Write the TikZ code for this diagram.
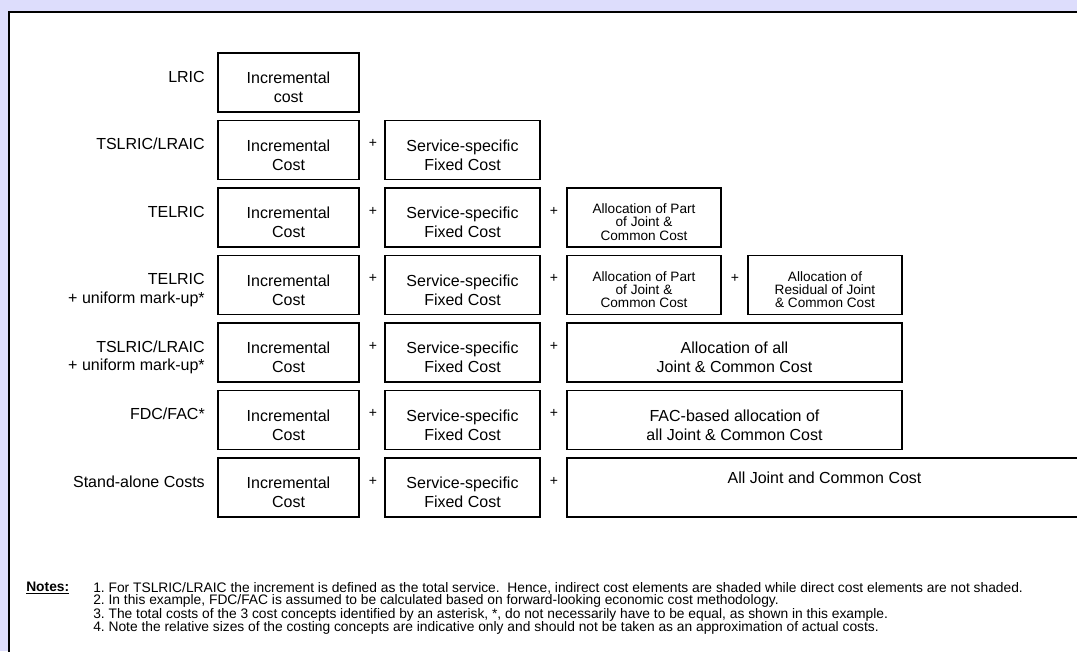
\documentclass[tikz,border=0pt]{standalone}
\usepackage{fontspec}
\setmainfont{Liberation Sans}
\definecolor{lav}{RGB}{221,221,252}
\begin{document}
\begin{tikzpicture}[x=0.75pt,y=-0.75pt,
  cbox/.style={draw, line width=1.1pt, inner sep=0pt, minimum height=44.25pt},
  btxt/.style={font=\fontsize{12}{14}\selectfont, align=center, inner sep=0pt},
  stxt/.style={font=\fontsize{10.2}{9.9}\selectfont, align=center, inner sep=0pt},
  lbl/.style={font=\fontsize{12}{14}\selectfont, align=right, anchor=east, inner sep=0pt},
  plus/.style={font=\fontsize{10.5}{11}\selectfont, inner sep=0pt},
  note/.style={font=\fontsize{10.35}{11}\selectfont, anchor=west, inner sep=0pt}]
\useasboundingbox (0,0) rectangle (1077,651);
\fill[lav] (0,0) rectangle (1077,651);
\draw[line width=1.7pt, fill=white] (8.7,12) rectangle (1100,680);

% row 1
\node[cbox, minimum width=105.75pt] (inc1) at (288.5,82.5) {};
\node[btxt] (inct1) at ([yshift=-3.75pt]inc1.center) {Incremental\\cost};
\node[lbl] (l1) at (205,77) {LRIC};

% rows 2-7 common boxes
\foreach \r/\y in {2/150,3/217.5,4/285,5/352.5,6/420,7/487.5} {
  \node[cbox, minimum width=105.75pt] (inc\r) at (288.5,\y) {};
  \node[btxt] (inct\r) at ([yshift=-3.75pt]inc\r.center) {Incremental\\Cost};
  \node[plus] (pa\r) at (373,\y-6.5) {+};
  \node[cbox, minimum width=116.25pt] (ssf\r) at (462.5,\y) {};
  \node[btxt] (ssft\r) at ([yshift=-3.75pt]ssf\r.center) {Service-specific\\Fixed Cost};
}
\foreach \r/\y in {3/217.5,4/285,5/352.5,6/420,7/487.5} {
  \node[plus] (pb\r) at (554,\y-6.5) {+};
}

\node[lbl] (l2) at (205,144) {TSLRIC/LRAIC};
\node[lbl] (l3) at (205,212) {TELRIC};
\node[lbl] (l4) at (205,290) {TELRIC\\+ uniform mark-up*};
\node[lbl] (l5) at (205,357.5) {TSLRIC/LRAIC\\+ uniform mark-up*};
\node[lbl] (l6) at (205,414) {FDC/FAC*};
\node[lbl] (l7) at (205,482) {Stand-alone Costs};

% row 3
\node[cbox, minimum width=115.5pt] (jc3) at (644,217.5) {};
\node[stxt] (jct3) at ([yshift=-3.4pt]jc3.center) {Allocation of Part\\of Joint \&\\Common Cost};

% row 4
\node[cbox, minimum width=115.5pt] (jc4) at (644,285) {};
\node[stxt] (jct4) at ([yshift=-3.4pt]jc4.center) {Allocation of Part\\of Joint \&\\Common Cost};
\node[plus] (pc4) at (735,278.5) {+};
\node[cbox, minimum width=115.5pt] (rj4) at (825,285) {};
\node[stxt] (rjt4) at ([yshift=-3.4pt]rj4.center) {Allocation of\\Residual of Joint\\\& Common Cost};

% row 5
\node[cbox, minimum width=251.25pt] (jc5) at (734.5,352.5) {};
\node[btxt] (jct5) at ([yshift=-3.75pt]jc5.center) {Allocation of all\\Joint \& Common Cost};

% row 6
\node[cbox, minimum width=251.25pt] (jc6) at (734.5,420) {};
\node[btxt] (jct6) at ([yshift=-3.75pt]jc6.center) {FAC-based allocation of\\all Joint \& Common Cost};

% row 7
\node[cbox, minimum width=386.25pt] (jc7) at (824.5,487.5) {};
\node[btxt] (jct7) at ([yshift=7.5pt]jc7.center) {All Joint and Common Cost};

% notes
\node[note] (nh) at (26,588) {\textbf{\underline{Notes:}}};
\node[note] (n1) at (93,588) {1.\ For TSLRIC/LRAIC the increment is defined as the total service.\ \ Hence, indirect cost elements are shaded while direct cost elements are not shaded.};
\node[note] (n2) at (93,601.3) {2.\ In this example, FDC/FAC is assumed to be calculated based on forward-looking economic cost methodology.};
\node[note] (n3) at (93,614.6) {3.\ The total costs of the 3 cost concepts identified by an asterisk, *, do not necessarily have to be equal, as shown in this example.};
\node[note] (n4) at (93,628) {4.\ Note the relative sizes of the costing concepts are indicative only and should not be taken as an approximation of actual costs.};
\end{tikzpicture}
\end{document}
